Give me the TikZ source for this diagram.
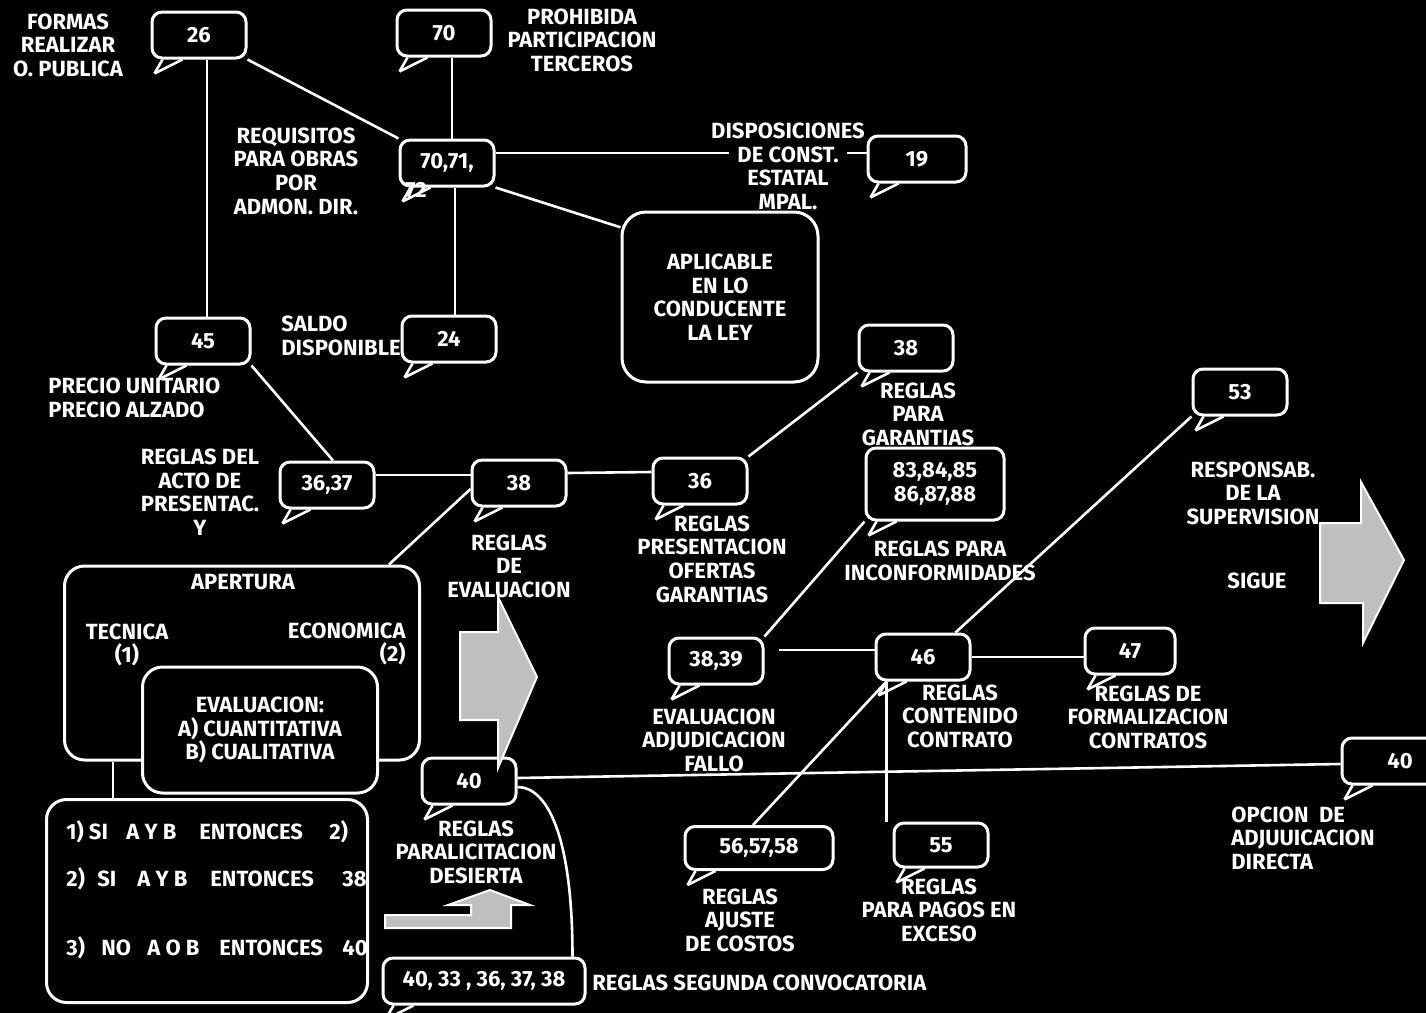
\documentclass[tikz,border=0pt]{standalone}
\usepackage{fontspec}
\setmainfont{Fira Sans}
\usetikzlibrary{positioning}

\begin{document}
\begin{tikzpicture}[
  x=0.5pt,y=-0.5pt,
  color=white,
  font=\fontsize{11}{11.8}\selectfont\bfseries,
  tl/.style={line width=1.3pt},
  num/.style={draw,line width=1.5pt,fill=black,rounded corners=5pt,align=center,
    minimum width=47pt,minimum height=23pt,inner sep=2pt,
    append after command={
      ([xshift=6pt]\tikzlastnode.south west) edge[tl] ([xshift=2pt,yshift=-7pt]\tikzlastnode.south west)
      ([xshift=2pt,yshift=-7pt]\tikzlastnode.south west) edge[tl] ([xshift=16pt]\tikzlastnode.south west)}},
  box/.style={draw,line width=1.5pt,fill=black,rounded corners=10pt,align=center},
  lab/.style={align=center,inner sep=1pt},
  conn/.style={line width=1.3pt},
  arw/.style={draw=white,line width=1pt,fill=white!75!black}]

  \fill[black] (0,0) rectangle (1426,1013);
  \useasboundingbox (0,0) rectangle (1426,1013);

  % parte superior
  \node[num] (n26) at (199,35) {26};
  \node[num] (n70) at (444,33) {70};
  \node[num] (n7071) at (447,163) {70,71,};
  \node[lab] (n72) at (416,190) {72};
  \node[num,minimum width=49pt] (n19) at (917,159) {19};
  \node[lab] (formas) at (68,45) {FORMAS\\REALIZAR\\O. PUBLICA};
  \node[lab] (prohib) at (582,40) {PROHIBIDA\\PARTICIPACION\\TERCEROS};
  \node[lab] (requis) at (296,171) {REQUISITOS\\PARA OBRAS\\POR\\ADMON. DIR.};
  \node[lab] (disp) at (788,131) {DISPOSICIONES};
  \node[num] (n24) at (449,339) {24};
  \node[num] (n45) at (203,341) {45};
  \node[lab,anchor=west,align=left] (saldo) at (279,336) {SALDO\\DISPONIBLE};
  \node[lab,anchor=west,align=left] (precio) at (46,398) {PRECIO UNITARIO\\PRECIO ALZADO};

  % parte media
  \node[num] (n3637) at (327,485) {36,37};
  \node[num] (n38a) at (519,483) {38};
  \node[num] (n36) at (700,481) {36};
  \node[num] (n38b) at (906,348) {38};
  \node[num,minimum width=69pt,minimum height=36pt] (n83) at (935,484) {83,84,85\\86,87,88};
  \node[num] (n53) at (1240,392) {53};
  \node[lab] (reglasdel) at (200,492) {REGLAS DEL\\ACTO DE\\PRESENTAC.\\Y};
  \node[lab] (evalr) at (509,566) {REGLAS\\DE\\EVALUACION};
  \node[lab] (presen) at (712,559) {REGLAS\\PRESENTACION\\OFERTAS\\GARANTIAS};
  \node[lab] (garant) at (918,414) {REGLAS\\PARA\\GARANTIAS};
  \node[lab] (inconf) at (940,561) {REGLAS PARA\\INCONFORMIDADES};
  \node[lab] (respons) at (1253,493) {RESPONSAB.\\DE LA\\SUPERVISION};
  \node[lab] (sigue) at (1257,581) {SIGUE};

  % parte inferior
  \node[num] (n3839) at (716,661) {38,39};
  \node[num] (n46) at (923,657) {46};
  \node[num,minimum width=45pt] (n47) at (1130,651) {47};
  \node[num] (n40m) at (469,781) {40};
  \node[num,minimum width=58pt] (n40r) at (1400,761) {40};
  \node[num,minimum width=74pt,minimum height=21.5pt] (n565758) at (759,848) {56,57,58};
  \node[num,minimum height=22pt] (n55) at (941,845) {55};
  \node[num,minimum width=101pt] (seg) at (484,981) {40, 33 , 36, 37, 38};
  \node[lab] (evaladj) at (714,740) {EVALUACION\\ADJUDICACION\\FALLO};
  \node[lab] (conten) at (960,716) {REGLAS\\CONTENIDO\\CONTRATO};
  \node[lab] (formal) at (1148,717) {REGLAS DE\\FORMALIZACION\\CONTRATOS};
  \node[lab,anchor=west,align=left] (opcion) at (1229,838) {OPCION~~DE\\ADJUUICACION\\DIRECTA};
  \node[lab] (paralic) at (476,852) {REGLAS\\PARALICITACION\\DESIERTA};
  \node[lab] (ajuste) at (740,920) {REGLAS\\AJUSTE\\DE COSTOS};
  \node[lab] (pagos) at (939,910) {REGLAS\\PARA PAGOS EN\\EXCESO};
  \node[lab,anchor=west] (segunda) at (590,983) {REGLAS SEGUNDA CONVOCATORIA};

  % apertura y evaluacion
  \node[box,minimum width=177.5pt,minimum height=97pt] (apert) at (242,663) {};
  \node[lab] (aptit) at (243,582) {APERTURA};
  \node[lab] (tecn) at (127,645) {TECNICA\\(1)};
  \node[lab,anchor=east,align=right] (econ) at (408,644) {ECONOMICA\\(2)};
  \node[box,minimum width=117.5pt,minimum height=63pt] (evalb) at (260,730) {EVALUACION:\\A) CUANTITATIVA\\B) CUALITATIVA};
  \node[box,minimum width=160.5pt,minimum height=101.5pt] (cond) at (207,901) {};
  \node[lab,anchor=west,inner sep=0pt] (c1) at (66,832) {\makebox[30pt][l]{1) SI}\makebox[36.5pt][l]{A Y B}\makebox[65pt][l]{ENTONCES}2)};
  \node[lab,anchor=west,inner sep=0pt] (c2) at (66,879) {\makebox[15.5pt][l]{2)}\makebox[20pt][l]{SI}\makebox[36.5pt][l]{A Y B}\makebox[66pt][l]{ENTONCES}38};
  \node[lab,anchor=west,inner sep=0pt] (c3) at (66,948) {\makebox[17.5pt][l]{3)}\makebox[23pt][l]{NO}\makebox[36pt][l]{A O B}\makebox[61.5pt][l]{ENTONCES}40};

  % conexiones
  \draw[conn] (n26.south east) -- (n7071.north west);
  \draw[conn] ([xshift=4pt]n26.south) -- ([xshift=2pt]n45.north);
  \draw[conn] ([xshift=4pt]n70.south) -- ([xshift=2.5pt]n7071.north);
  \draw[conn] ([xshift=4pt]n7071.south) -- ([xshift=3pt]n24.north);
  \draw[conn] ([yshift=5pt]n7071.east) -- ([yshift=3pt]n19.west);
  \node[lab,fill=black,inner xsep=4pt,inner ysep=0pt] (dispb) at (788,178) {DE CONST.\\ESTATAL\\MPAL.};
  \node[box,minimum width=98pt,minimum height=85pt,rounded corners=12pt] (aplic) at (720,297) {APLICABLE\\EN LO\\CONDUCENTE\\LA LEY};
  \draw[conn] (n7071.south east) -- (aplic.145);
  \draw[conn] (n45.south east) -- ([xshift=3pt]n3637.north);
  \draw[conn] ([yshift=5pt]n3637.east) -- ([yshift=4pt]n38a.west);
  \draw[conn] ([yshift=5pt]n38a.east) -- ([yshift=4.5pt]n36.west);
  \draw[conn] ([yshift=-3pt]n38a.west) -- ([xshift=-16pt]apert.north east);
  \draw[conn] (n36.north east) -- (n38b.south west);
  \draw[conn] (n3839.north east) -- (n83.south west);
  \draw[conn] ([xshift=7pt,yshift=5.5pt]n3839.east) -- ([yshift=3.5pt]n46.west);
  \draw[conn] ([xshift=-8pt]n46.north east) -- (n53.south west);
  \draw[conn] (n46.east) -- (n46.east -| n47.west);
  \draw[conn] ([xshift=6pt]n46.south west) -- ([xshift=6pt]n46.south west |- n55.north);
  \draw[conn] ([xshift=6pt]n46.south west) -- ([xshift=-3pt]n565758.north);
  \draw[conn] ([yshift=1.5pt]n40m.east) -- ([yshift=-1.5pt]n40r.west);
  \draw[conn] ([yshift=-3pt]n40m.east) .. controls +(30,0) and +(0,-120) .. ([xshift=-7pt]seg.north east);
  \draw[conn] ([xshift=25pt]apert.south west) -- ([xshift=25pt]apert.south west |- cond.north);

  % flechas
  \path[arw] (460,632) -- (498,632) -- (498,597) -- (537,677) -- (498,768) -- (498,720) -- (460,720) -- cycle;
  \path[arw] (1320,523) -- (1361,523) -- (1361,482) -- (1404,560) -- (1363,643) -- (1363,603) -- (1320,603) -- cycle;
  \path[arw] (385,915) -- (471,915) -- (471,905) -- (448,905) -- (490,890) -- (530,905) -- (511,905) -- (511,928) -- (385,928) -- cycle;
\end{tikzpicture}
\end{document}
